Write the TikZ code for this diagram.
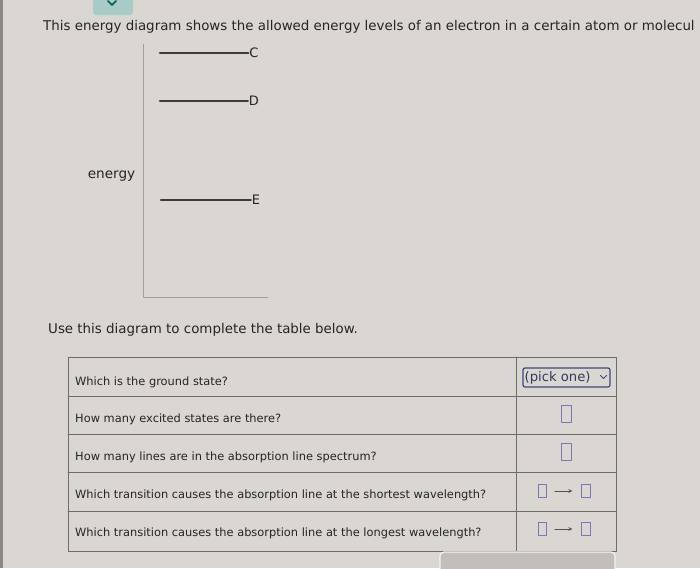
\documentclass[tikz,border=0pt]{standalone}
\usepackage{fontspec}
\setmainfont{DejaVu Sans}
\definecolor{pagebg}{HTML}{DAD7D3}
\definecolor{inktext}{HTML}{262524}
\definecolor{axisgray}{HTML}{A3A09C}
\definecolor{gridgray}{HTML}{6E6C6A}
\definecolor{boxviolet}{HTML}{7C77B4}
\definecolor{pickblue}{HTML}{3C4878}
\definecolor{tabteal}{HTML}{A9CBC8}
\tikzset{
  level/.style={line width=2.6pt,draw=inktext!90},
  lvllabel/.style={font=\fontsize{13}{15}\selectfont,text=inktext,inner sep=1pt},
  rowtext/.style={anchor=west,font=\fontsize{11.4}{13}\selectfont,text=inktext,inner sep=0pt},
  ansbox/.style={draw=boxviolet,line width=1pt,minimum width=10pt,minimum height=17pt,inner sep=0pt},
  smallbox/.style={draw=boxviolet,line width=1pt,minimum width=8.5pt,minimum height=13pt,inner sep=0pt},
  trans/.style={->,draw=inktext!80,line width=.8pt,shorten <=7.5pt,shorten >=9pt}
}
\begin{document}
\begin{tikzpicture}[x=1pt,y=-1pt,line cap=round,line join=round,>=stealth]
  \fill[pagebg] (0,0) rectangle (700,568);
  \useasboundingbox (0,0) rectangle (700,568);
  \clip (0,0) rectangle (700,568);
  \fill[gridgray!80] (0,0) rectangle (3,568);
  % tab at the top
  \fill[tabteal,rounded corners=3pt] (93,-6) rectangle (133,15);
  \draw[teal!70!black,line width=1.6pt] (108,1) -- (112,5) -- (116,1);
  % heading
  \node[anchor=base west,font=\fontsize{13.4}{15}\selectfont,text=inktext,inner sep=0pt] (head) at (43,30)
    {This energy diagram shows the allowed energy levels of an electron in a certain atom or molecul};
  % axes
  \coordinate (top) at (143,44);
  \coordinate (orig) at (143,297);
  \coordinate (xend) at (268,297);
  \draw[axisgray,line width=.9pt] (top) -- (orig) -- (xend);
  \node[font=\fontsize{13.6}{15}\selectfont,text=inktext] (energy) at (111.5,176) {energy};
  % levels
  \node[lvllabel] (C) at (254,53) {C};
  \node[lvllabel] (D) at (254,101) {D};
  \node[lvllabel] (E) at (256,200) {E};
  \coordinate (c0) at (160,53);
  \coordinate (d0) at (160,101);
  \coordinate (e0) at (161,200);
  \draw[level] (c0) -- (C.west);
  \draw[level] (d0) -- (D.west);
  \draw[level] (e0) -- (E.west);
  \node[anchor=base west,font=\fontsize{13.4}{15}\selectfont,text=inktext,inner sep=0pt] (use) at (48,333)
    {Use this diagram to complete the table below.};
  % table
  \draw[gridgray,line width=.8pt] (68,357) rectangle (616,551);
  \foreach \y in {396,434,472,511}
    \draw[gridgray,line width=.8pt] (68,\y) -- (616,\y);
  \draw[gridgray,line width=.8pt] (516,357) -- (516,551);
  \node[rowtext] (q1) at (75,382) {Which is the ground state?};
  \node[rowtext] (q2) at (75,419) {How many excited states are there?};
  \node[rowtext] (q3) at (75,457) {How many lines are in the absorption line spectrum?};
  \node[rowtext] (q4) at (75,495) {Which transition causes the absorption line at the shortest wavelength?};
  \node[rowtext] (q5) at (75,533) {Which transition causes the absorption line at the longest wavelength?};
  % answers
  \node[draw=pickblue,line width=1.2pt,rounded corners=2pt,minimum width=87pt,minimum height=19pt,inner sep=0pt] (pick) at (566.5,377.5) {};
  \node[anchor=west,font=\fontsize{13.2}{15}\selectfont,text=pickblue!80!black,inner sep=0pt] (picktxt) at ([xshift=2pt]pick.west) {(pick one)};
  \draw[pickblue,line width=1pt] (600.5,375.5) -- (603.5,378.5) -- (606.5,375.5);
  \node[ansbox] (a2) at (566.5,414) {};
  \node[ansbox] (a3) at (566.5,452) {};
  \node[smallbox] (a4l) at (542.5,491) {};
  \node[smallbox] (a4r) at (586.2,491) {};
  \draw[trans] (a4l) -- (a4r);
  \node[smallbox] (a5l) at (542.5,529) {};
  \node[smallbox] (a5r) at (586.2,529) {};
  \draw[trans] (a5l) -- (a5r);
  % bottom button, partly shown
  \draw[fill=gray!28!pagebg,draw=white!75!pagebg,line width=1.2pt,rounded corners=4pt] (440,552) rectangle (615,580);
\end{tikzpicture}
\end{document}
